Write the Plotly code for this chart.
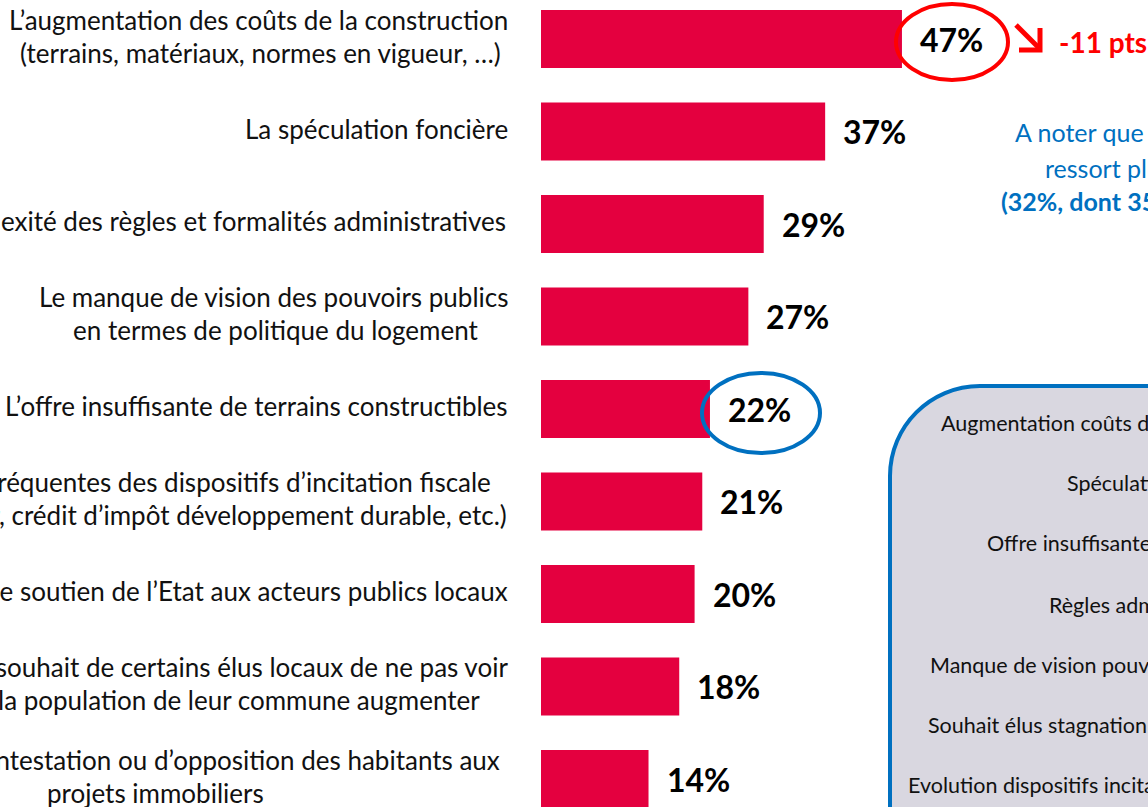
import plotly.graph_objects as go

# ---------------- data ----------------
categories = [
    ["L’augmentation des coûts de la construction", "(terrains, matériaux, normes en vigueur, …)"],
    ["La spéculation foncière"],
    ["La complexité des règles et formalités administratives"],
    ["Le manque de vision des pouvoirs publics", "en termes de politique du logement"],
    ["L’offre insuffisante de terrains constructibles"],
    ["Les évolutions fréquentes des dispositifs d’incitation fiscale", "(dispositif Scellier, crédit d’impôt développement durable, etc.)"],
    ["Le manque de soutien de l’Etat aux acteurs publics locaux"],
    ["Le souhait de certains élus locaux de ne pas voir", "la population de leur commune augmenter"],
    ["Les actions de contestation ou d’opposition des habitants aux", "projets immobiliers"],
]
values = [47, 37, 29, 27, 22, 21, 20, 18, 14]
value_labels = ["47%", "37%", "29%", "27%", "22%", "21%", "20%", "18%", "14%"]
evolution_label = "-11 pts"
note_lines = ["A noter que l’offre insuffisante", "ressort plus fortement", "(32%, dont 35% ...)"]
box_lines = [
    "Augmentation coûts de construction",
    "Spéculation foncière",
    "Offre insuffisante de terrains",
    "Règles administratives",
    "Manque de vision pouvoirs publics",
    "Souhait élus stagnation population",
    "Evolution dispositifs incitation fiscale",
]

# ---------------- layout helpers (pixels) ----------------
W, H = 1148, 807
BAR_X0 = 541
PX_PER_PCT = 7.68
PITCH = 92.5
FIRST_CENTER = 39
BAR_H = 58
LINE_H = 33

# right edge of each label line (px)
label_right = [[510, 503], [510], [508], [510, 480], [510], [493, 509], [510], [510, 482], [502, 266]]

RED_BAR = "#E4003F"
BLUE = "#0070C0"
RED = "#FF0000"
LFONT = "Lato"


def px(x):
    return x / W


def py(y):
    return 1 - y / H


fig = go.Figure()
fig.add_trace(go.Bar(
    x=values, y=list(range(len(values))), orientation="h",
    width=BAR_H / PITCH, marker=dict(color=RED_BAR, line=dict(width=0)),
    hoverinfo="skip", showlegend=False,
))

annotations = []
# category labels
for i, lines in enumerate(categories):
    n = len(lines)
    for k, line in enumerate(lines):
        dy = (k - (n - 1) / 2) * LINE_H - 3
        annotations.append(dict(
            x=px(label_right[i][k]), xref="paper", xanchor="right",
            y=i, yref="y", yanchor="middle", yshift=-dy,
            text=line, showarrow=False,
            font=dict(family=LFONT, size=26, color="#111111"),
        ))
# value labels
for i, (v, t) in enumerate(zip(values, value_labels)):
    annotations.append(dict(
        x=v, xref="x", xanchor="left", xshift=16,
        y=i, yref="y", yanchor="middle",
        text="<b>" + t + "</b>", showarrow=False,
        font=dict(family=LFONT, size=32, color="#000000"),
    ))
# evolution
annotations.append(dict(
    x=px(1057), xref="paper", xanchor="left", y=py(42), yref="paper", yanchor="middle",
    text="<b>" + evolution_label + "</b>", showarrow=False,
    font=dict(family=LFONT, size=28, color=RED),
))
# blue note
note_pos = [(1013, 132, False), (1043, 168, False), (999, 201, True)]
for (x, y, b), t in zip(note_pos, note_lines):
    annotations.append(dict(
        x=px(x), xref="paper", xanchor="left", y=py(y), yref="paper", yanchor="middle",
        text=("<b>" + t + "</b>") if b else t, showarrow=False,
        font=dict(family=LFONT, size=25, color=BLUE),
    ))
# box texts
box_pos = [(939, 423), (1065, 483), (985, 543), (1047, 605), (928, 665), (926, 725), (906, 785)]
for (x, y), t in zip(box_pos, box_lines):
    annotations.append(dict(
        x=px(x), xref="paper", xanchor="left", y=py(y), yref="paper", yanchor="middle",
        text=t, showarrow=False,
        font=dict(family=LFONT, size=21.5, color="#111111"),
    ))

shapes = []
# rounded box
bx, by, r, bx2, by2 = 890, 386, 90, 1250, 950
k = 0.5523 * r
path = (f"M {px(bx)},{py(by2)} L {px(bx)},{py(by + r)} "
        f"C {px(bx)},{py(by + r - k)} {px(bx + r - k)},{py(by)} {px(bx + r)},{py(by)} "
        f"L {px(bx2)},{py(by)} L {px(bx2)},{py(by2)} Z")
shapes.append(dict(type="path", xref="paper", yref="paper", path=path,
                   fillcolor="#D9D7E0", line=dict(color=BLUE, width=4), layer="below"))
# ellipses
for (cx, cy, rx, ry, col) in [(952, 42, 56, 38, RED), (761, 413, 59, 40, BLUE)]:
    shapes.append(dict(type="circle", xref="paper", yref="paper",
                       x0=px(cx - rx), x1=px(cx + rx), y0=py(cy + ry), y1=py(cy - ry),
                       line=dict(color=col, width=4)))
# arrow
shapes.append(dict(type="path", xref="paper", yref="paper",
                   path=f"M {px(1016)},{py(25)} L {px(1039)},{py(48)}",
                   line=dict(color=RED, width=5)))
shapes.append(dict(type="path", xref="paper", yref="paper",
                   path=f"M {px(1040)},{py(28)} L {px(1040)},{py(50)} L {px(1019)},{py(50)}",
                   line=dict(color=RED, width=5)))

fig.update_layout(
    width=W, height=H, margin=dict(l=0, r=0, t=0, b=0, pad=0),
    paper_bgcolor="white", plot_bgcolor="rgba(0,0,0,0)",
    xaxis=dict(domain=[px(BAR_X0), 1], range=[0, (W - BAR_X0) / PX_PER_PCT],
               visible=False, fixedrange=True),
    yaxis=dict(domain=[0, 1], range=[(H - FIRST_CENTER) / PITCH, -FIRST_CENTER / PITCH],
               visible=False, fixedrange=True),
    annotations=annotations, shapes=shapes, showlegend=False,
)
fig.write_html(
    "out.html",
    config={"displayModeBar": False},
    post_script="document.body.style.margin='0';document.body.style.overflow='hidden';",
)
